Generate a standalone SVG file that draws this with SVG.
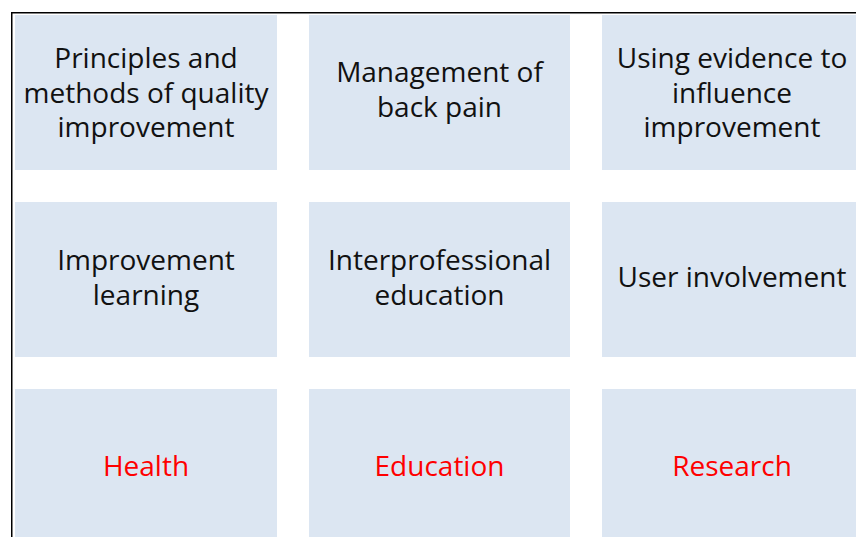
<svg xmlns="http://www.w3.org/2000/svg" width="856" height="537" viewBox="0 0 856 537">
<style>
.box{fill:#DCE6F2}
.t{font-family:"Open Sans","Noto Sans","Liberation Sans",sans-serif;font-size:28px;fill:#111;text-anchor:middle}
.r{fill:#FF0000}
.frame{fill:none;stroke:#000;stroke-width:1.5}
</style>
<rect width="856" height="537" fill="#fff"/>
<path class="frame" d="M11.75,537 V12.75 H856"/>
<g id="n1"><rect class="box" x="15" y="15" width="262" height="155"/><text class="t" x="146"><tspan x="146" y="68">Principles and</tspan><tspan x="146" y="102.5">methods of quality</tspan><tspan x="146" y="137">improvement</tspan></text></g>
<g id="n2"><rect class="box" x="309" y="15" width="261" height="155"/><text class="t"><tspan x="439.5" y="82">Management of</tspan><tspan x="439.5" y="117">back pain</tspan></text></g>
<g id="n3"><rect class="box" x="602" y="15" width="260" height="155"/><text class="t"><tspan x="732" y="68">Using evidence to</tspan><tspan x="732" y="102.5">influence</tspan><tspan x="732" y="137">improvement</tspan></text></g>
<g id="n4"><rect class="box" x="15" y="202" width="262" height="155"/><text class="t"><tspan x="146" y="270">Improvement</tspan><tspan x="146" y="304.5">learning</tspan></text></g>
<g id="n5"><rect class="box" x="309" y="202" width="261" height="155"/><text class="t"><tspan x="439.5" y="270">Interprofessional</tspan><tspan x="439.5" y="304.5">education</tspan></text></g>
<g id="n6"><rect class="box" x="602" y="202" width="260" height="155"/><text class="t" x="732" y="287">User involvement</text></g>
<g id="n7"><rect class="box" x="15" y="389" width="262" height="155"/><text class="t r" x="146" y="476">Health</text></g>
<g id="n8"><rect class="box" x="309" y="389" width="261" height="155"/><text class="t r" x="439.5" y="476">Education</text></g>
<g id="n9"><rect class="box" x="602" y="389" width="260" height="155"/><text class="t r" x="732" y="476">Research</text></g>
<g id="connectors"/>
</svg>
